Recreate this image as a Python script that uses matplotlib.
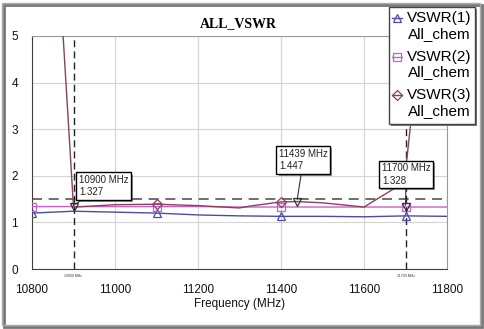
import matplotlib
matplotlib.use("Agg")
import matplotlib.pyplot as plt
import matplotlib.patheffects as pe
from matplotlib.patches import Rectangle
from matplotlib.lines import Line2D

# sweep data
freq = [10800, 10900, 11000, 11100, 11200, 11300, 11400, 11500, 11600, 11700, 11800]
vswr1 = [1.20, 1.24, 1.22, 1.20, 1.16, 1.14, 1.13, 1.13, 1.12, 1.14, 1.13]
vswr2 = [1.34, 1.34, 1.34, 1.34, 1.34, 1.33, 1.33, 1.33, 1.33, 1.33, 1.33]
freq3 = [10800, 10900, 11000, 11100, 11200, 11300, 11325, 11400, 11439, 11500, 11600, 11690, 11703, 11740]
vswr3 = [16.0, 1.327, 1.38, 1.39, 1.36, 1.31, 1.35, 1.44, 1.447, 1.42, 1.33, 1.82, 2.34, 5.4]

names = ["VSWR(1)", "VSWR(2)", "VSWR(3)"]
colors = ["#4b4ba8", "#c860c8", "#8c4060"]
markers = ["^", "s", "D"]
MARK_F = [10800, 11100, 11400, 11700]

# marker readouts
m_freq = [10900, 11439, 11700]
m_val = [1.327, 1.447, 1.328]
m_text_pos = [(10913, 2.02), (11395, 2.58), (11643, 2.27)]

fig = plt.figure(figsize=(4.84, 3.29), dpi=100)
plt.rcParams["font.family"] = ["Liberation Sans", "DejaVu Sans"]
ax = fig.add_axes([32 / 484, 1 - 269 / 329, 415 / 484, 233 / 329])

series = [(freq, vswr1), (freq, vswr2), (freq3, vswr3)]
for (f, v), c, m in zip(series, colors, markers):
    me = [i for i, x in enumerate(f) if x in MARK_F]
    ax.plot(f, v, color=c, lw=1.0, marker=m, ms=6 if m != "D" else 5, mfc="none",
            mec=c, mew=0.9, markevery=me, zorder=3)

ax.axhline(1.5, color="#555555", lw=1.2, dashes=(6, 4), zorder=2)
for f in (m_freq[0], m_freq[2]):
    ax.axvline(f, color="#222222", lw=1.0, dashes=(5, 3), zorder=2)
    ax.text(f, -0.1, f"{f} MHz", fontsize=2.5, ha="center", va="top", color="#333333")

for f, v, (tx, ty) in zip(m_freq, m_val, m_text_pos):
    ax.plot([f], [v], marker="v", ms=6, mfc="none", mec="#333333", mew=0.9, zorder=5)
    ann = ax.annotate(f"{f} MHz\n{v:.3f}", xy=(f, v + 0.04), xytext=(tx, ty),
                      fontsize=7, ha="left", va="top", color="#222222", linespacing=1.3,
                      bbox=dict(boxstyle="square,pad=0.25", fc="white", ec="black", lw=1.0),
                      arrowprops=dict(arrowstyle="-", color="#333333", lw=0.8,
                                      shrinkA=0, shrinkB=0), zorder=6)
    ann.get_bbox_patch().set_path_effects([pe.withSimplePatchShadow(offset=(1.5, -1.5),
                                                                      alpha=0.6)])

ax.set_xlim(10800, 11800)
ax.set_ylim(0, 5)
ax.set_xticks(range(10800, 11801, 200))
ax.set_yticks(range(0, 6))
ax.grid(True, color="#d4d4d4", lw=0.8)
ax.set_axisbelow(True)
ax.tick_params(length=0, labelsize=8.5, colors="#111111")
ax.tick_params(axis="x", pad=11)
ax.tick_params(axis="y", pad=10)
for s in ("left", "bottom"):
    ax.spines[s].set_color("#404040")
for s in ("top", "right"):
    ax.spines[s].set_color("#999999")

ax.set_xlabel("Frequency (MHz)", fontsize=8.5, color="#111111")
ax.xaxis.set_label_coords(0.499, -0.150)
ax.xaxis.label.set_va("center")

fig.text(238.5 / 484, 1 - 24 / 329, "ALL_VSWR", fontsize=10, fontweight="bold",
         family="Liberation Serif", ha="center", va="center")

# outer frame with shadow
def fpx(x, y):
    return x / 484, 1 - y / 329

fig.add_artist(Rectangle(fpx(4, 327), 478 / 484, 322 / 329, transform=fig.transFigure,
                         fc="none", ec="#777777", lw=2.0, zorder=0))
fig.add_artist(Rectangle(fpx(2, 325), 478 / 484, 322 / 329, transform=fig.transFigure,
                         fc="none", ec="#aaaaaa", lw=1.0, zorder=0))

# legend box drawn over the plot
lx0, ly0, lx1, ly1 = 389, 7, 475, 124
fig.add_artist(Rectangle(fpx(lx0 + 2, ly1 + 2), (lx1 - lx0) / 484, (ly1 - ly0) / 329,
                         transform=fig.transFigure, fc="#777777", ec="none", zorder=8))
fig.add_artist(Rectangle(fpx(lx0, ly1), (lx1 - lx0) / 484, (ly1 - ly0) / 329,
                         transform=fig.transFigure, fc="white", ec="#444444", lw=1.0, zorder=9))
for i, (name, c, m) in enumerate(zip(names, colors, markers)):
    y1 = 18 + 38.5 * i
    y2 = y1 + 16
    fig.add_artist(Line2D([392 / 484, 402 / 484], [1 - y1 / 329] * 2, color=c, lw=1.0,
                          transform=fig.transFigure, zorder=10))
    fig.add_artist(Line2D([397 / 484], [1 - y1 / 329], marker=m, ms=6 if m != "D" else 5,
                          mfc="none", mec=c, mew=0.9, transform=fig.transFigure, zorder=10))
    fig.text(471 / 484, 1 - y1 / 329, name, fontsize=11, ha="right", va="center", zorder=11)
    fig.text(471 / 484, 1 - y2 / 329, "All_chem", fontsize=11, ha="right", va="center",
             zorder=11)

fig.savefig("out.png", dpi=100, facecolor="white")
